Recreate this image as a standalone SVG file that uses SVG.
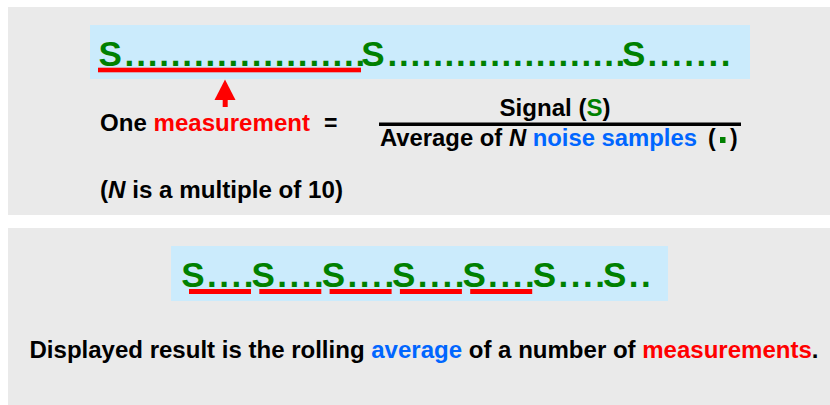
<svg xmlns="http://www.w3.org/2000/svg" width="830" height="405" viewBox="0 0 830 405">
<style>
.t{font-family:"Liberation Sans",Arial,Helvetica,sans-serif;font-weight:bold}
.big{font-size:35px;fill:#008000}
.mid{font-size:23px;fill:#000}
.g{fill:#008000}
.r{fill:#ff0000}
.b{fill:#0066ff}
.panel{fill:#eaeaea}
.band{fill:#cbebfc}
.ul{fill:#ff0000}
</style>
<rect width="830" height="405" fill="#ffffff"/>
<g id="panel-top">
<rect class="panel" x="8" y="7" width="822" height="208"/>
</g>
<g id="panel-bottom">
<rect class="panel" x="8" y="228" width="822" height="177"/>
</g>
<g id="signal-row-1">
<rect class="band" x="90" y="25" width="660" height="54"/>
<text class="t big" y="65.5" x="98.5 124.6 136.15 147.7 159.25 170.8 182.35 193.9 205.45 217 228.55 240.1 251.65 263.2 274.75 286.3 297.85 309.4 320.95 332.5 344.05 355.6 361.2 387.6 399 410.4 421.8 433.2 444.6 456 467.4 478.8 490.2 501.6 513 524.4 535.8 547.2 558.6 570 581.4 592.8 604.2 615.6 622 647.6 659.8 672 684.2 696.4 708.6 720.8">S.....................S.....................S.......</text>
<rect class="ul" x="98" y="67.7" width="263" height="4.6"/>
</g>
<g id="formula">
<text class="t mid" x="100" y="131"><tspan textLength="210" lengthAdjust="spacingAndGlyphs">One <tspan class="r">measurement</tspan></tspan></text>
<text class="t mid" x="324" y="131">=</text>
<text class="t mid" x="499.5" y="116" textLength="111" lengthAdjust="spacingAndGlyphs">Signal (<tspan class="g">S</tspan>)</text>
<rect x="379" y="122.5" width="362" height="3.5" fill="#000"/>
<text class="t mid" x="380" y="146" textLength="317" lengthAdjust="spacingAndGlyphs">Average of <tspan font-style="italic">N</tspan> <tspan class="b">noise samples</tspan></text>
<text class="t mid" x="708" y="146">(</text>
<rect x="720" y="137" width="5.5" height="6" fill="#008000"/>
<text class="t mid" x="730" y="146">)</text>
</g>
<g id="note">
<text class="t mid" x="100" y="198" textLength="243" lengthAdjust="spacingAndGlyphs">(<tspan font-style="italic">N</tspan> is a multiple of 10)</text>
</g>
<g id="signal-row-2">
<rect class="band" x="171" y="246" width="497" height="55"/>
<text class="t big" y="286.7" x="181.2 206.9 219.2 231.5 243.8 251.5 277.2 289.5 301.8 314.1 321.8 347.5 359.8 372.1 384.4 392.1 417.8 430.1 442.4 454.7 462.4 488.1 500.4 512.7 525 532.7 558.4 570.7 583 595.3 603 628.7 641">S....S....S....S....S....S....S..</text>
<rect class="ul" x="189" y="289" width="62" height="5"/>
<rect class="ul" x="259.3" y="289" width="62" height="5"/>
<rect class="ul" x="329.6" y="289" width="62" height="5"/>
<rect class="ul" x="399.9" y="289" width="62" height="5"/>
<rect class="ul" x="470.2" y="289" width="62" height="5"/>
</g>
<g id="caption">
<text class="t mid" x="29.5" y="357.5" textLength="789" lengthAdjust="spacingAndGlyphs">Displayed result is the rolling <tspan class="b">average</tspan> of a number of <tspan class="r">measurements</tspan>.</text>
</g>
<g id="connectors">
<polygon points="225,79.5 214.5,100 235.5,100" fill="#ff0000"/>
<rect x="222.7" y="99" width="5" height="8" fill="#ff0000"/>
</g>
</svg>
